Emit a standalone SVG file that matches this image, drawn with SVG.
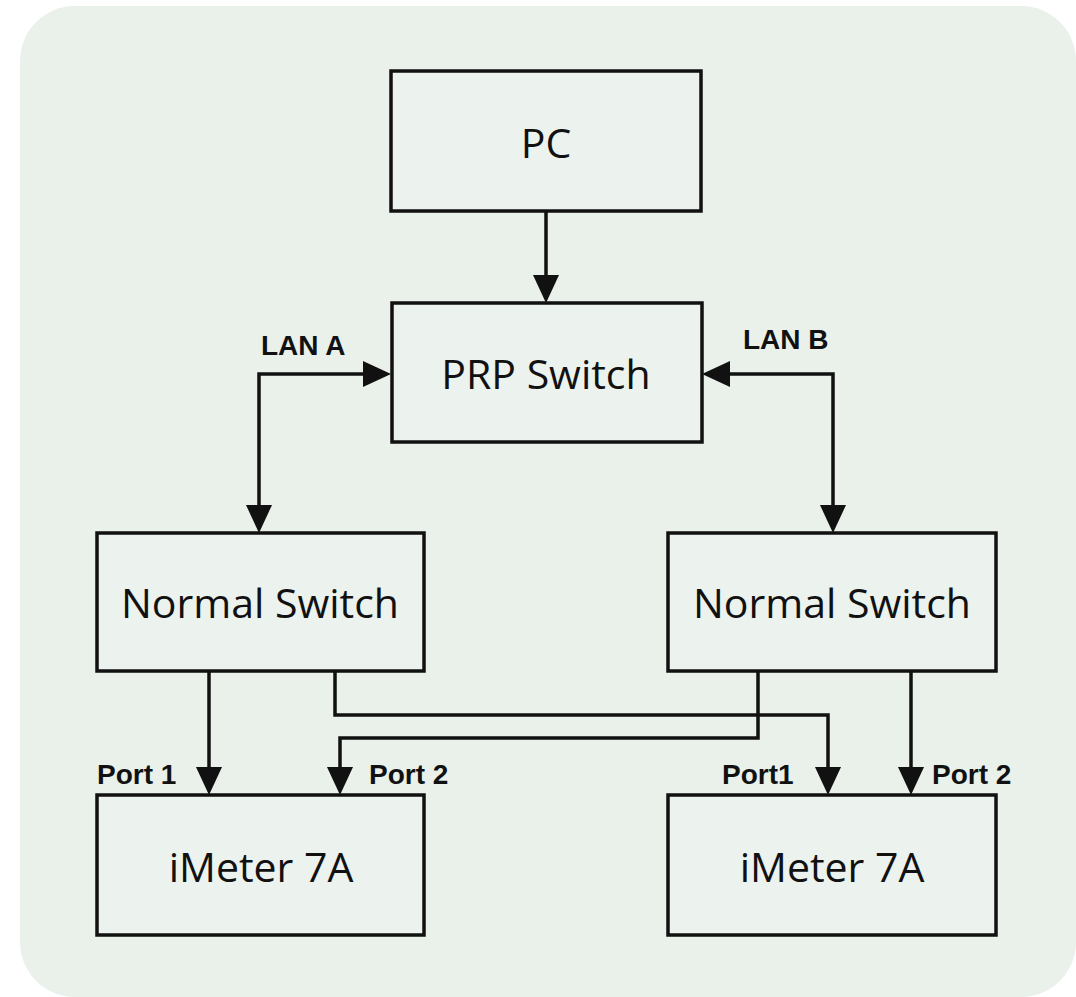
<svg xmlns="http://www.w3.org/2000/svg" width="1076" height="997" viewBox="0 0 1076 997">
<style>
.box{fill:#ecf2ed;stroke:#111;stroke-width:3.5}
.lbl{font-family:"Open Sans","Noto Sans",sans-serif;font-size:41px;fill:#111;text-anchor:middle}
.tag{font-family:"Liberation Sans",Arial,sans-serif;font-size:28px;font-weight:bold;fill:#111}
.wire{fill:none;stroke:#111;stroke-width:3.5}
</style>
<defs>
<marker id="ah" markerUnits="userSpaceOnUse" markerWidth="28" markerHeight="26" refX="0" refY="13" orient="auto-start-reverse" viewBox="0 0 28 26">
<path d="M0,0 L28,13 L0,26 Z" fill="#111"/>
</marker>
</defs>
<rect x="20" y="6" width="1056" height="991" rx="55" fill="#e9f1ea"/>
<g id="pc"><rect class="box" x="391" y="71" width="310" height="140"/><text class="lbl" x="546" y="158">PC</text></g>
<g id="prp"><rect class="box" x="392" y="303" width="310" height="139"/><text class="lbl" x="546" y="389">PRP Switch</text></g>
<g id="ns1"><rect class="box" x="97" y="533" width="327" height="138"/><text class="lbl" x="260" y="618">Normal Switch</text></g>
<g id="ns2"><rect class="box" x="668" y="533" width="328" height="138"/><text class="lbl" x="832" y="618">Normal Switch</text></g>
<g id="im1"><rect class="box" x="97" y="795" width="327" height="140"/><text class="lbl" x="261" y="882">iMeter 7A</text></g>
<g id="im2"><rect class="box" x="668" y="795" width="328" height="140"/><text class="lbl" x="832" y="882">iMeter 7A</text></g>
<g id="connectors">
<path class="wire" d="M546,211 V275" marker-end="url(#ah)"/>
<path class="wire" d="M363,374 H259 V505" marker-start="url(#ah)" marker-end="url(#ah)"/>
<path class="wire" d="M730,374 H833 V505" marker-start="url(#ah)" marker-end="url(#ah)"/>
<path class="wire" d="M209,671 V767" marker-end="url(#ah)"/>
<path class="wire" d="M335,671 V715 H828 V767" marker-end="url(#ah)"/>
<path class="wire" d="M758,671 V738 H340 V767" marker-end="url(#ah)"/>
<path class="wire" d="M911,671 V767" marker-end="url(#ah)"/>
</g>
<g id="labels">
<text class="tag" x="261" y="355">LAN A</text>
<text class="tag" x="743" y="349">LAN B</text>
<text class="tag" x="97" y="784">Port 1</text>
<text class="tag" x="369" y="784">Port 2</text>
<text class="tag" x="722" y="784">Port1</text>
<text class="tag" x="932" y="784">Port 2</text>
</g>
</svg>
